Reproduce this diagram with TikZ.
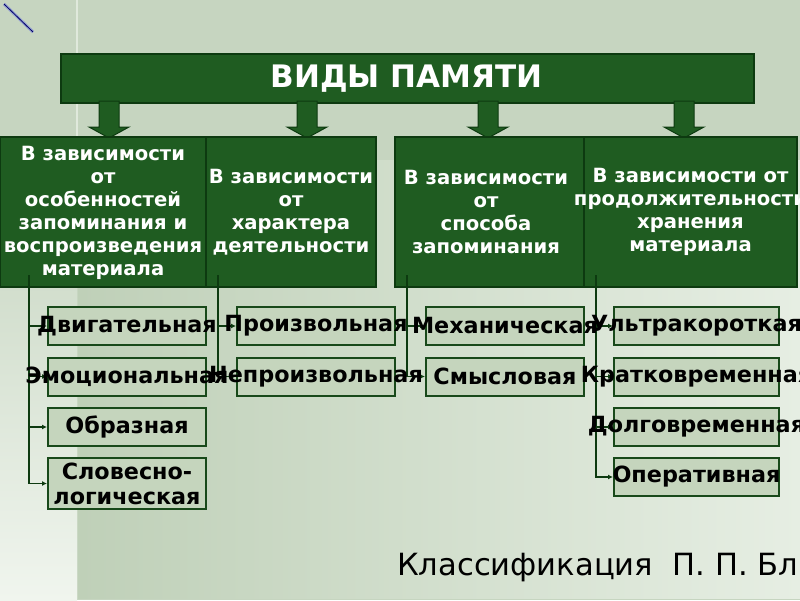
\documentclass[tikz,border=0pt]{standalone}
\usepackage{fontspec}
\setmainfont{DejaVu Sans}
\usetikzlibrary{arrows.meta}
\definecolor{bgA}{HTML}{C6D5C0}
\definecolor{bgB}{HTML}{BFD0B8}
\definecolor{bgC}{HTML}{E6EEE3}
\definecolor{bgL}{HTML}{F0F5EE}
\definecolor{dkgreen}{HTML}{1F5C21}
\definecolor{dkline}{HTML}{0D3A10}
\definecolor{subfill}{HTML}{C5D5BD}
\definecolor{subline}{HTML}{18491A}
\tikzset{
  titlebox/.style={draw=dkline, line width=2pt, fill=dkgreen, minimum width=693pt, minimum height=49pt, inner sep=0pt},
  catbox/.style={draw=dkline, line width=1.5pt, fill=dkgreen, minimum height=150pt, inner sep=0pt},
  cattext/.style={text=white, align=center, inner sep=0pt, font=\fontsize{19.6}{23}\selectfont\bfseries},
  subbox/.style={draw=subline, line width=2pt, fill=subfill, minimum width=158pt, minimum height=38pt, inner sep=0pt},
  subtext/.style={text=black, align=center, inner sep=0pt, font=\fontsize{22.3}{25}\selectfont\bfseries},
  blockarr/.style={fill=dkgreen, draw=dkline, line width=1pt},
  conn/.style={draw=dkline, line width=1.6pt, -{Latex[length=5pt,width=5pt]}},
}
\begin{document}
\begin{tikzpicture}[x=1pt,y=-1pt]
\useasboundingbox (0,0) rectangle (800,600);
% background
\fill[bgA] (0,0) rectangle (800,600);
\shade[left color=bgB, right color=bgC] (78,160) rectangle (800,598);
\shade[top color=bgA, bottom color=bgL] (0,160) rectangle (77,600);
\draw[color=bgC!80!bgA, line width=1.2pt] (77,0) -- (77,160);
% diagonal line
\draw[color=blue!25!bgA, line width=3pt] (4,4) -- (33,32);
\draw[color=blue!40!black, line width=0.8pt] (4,4) -- (33,32);
% title
\node[titlebox] (title) at (407.5,78.5) {};
\node[text=white, font=\fontsize{31}{34}\selectfont\bfseries, inner sep=0pt] (titletext) at (406.5,79) {ВИДЫ ПАМЯТИ};
% block arrows
\foreach \cx in {109,307,488,684}{
  \filldraw[blockarr] (\cx-10,101) -- (\cx+10,101) -- (\cx+10,127) -- (\cx+20,127) -- (\cx,138) -- (\cx-20,127) -- (\cx-10,127) -- cycle;
}
% category boxes
\node[catbox, minimum width=206pt] (cat1) at (103,212) {};
\node[catbox, minimum width=170pt] (cat2) at (291,212) {};
\node[catbox, minimum width=189pt] (cat3) at (489.5,212) {};
\node[catbox, minimum width=213pt] (cat4) at (690.5,212) {};
\node[cattext] (cat1t) at (103,213) {В зависимости\\от\\особенностей\\запоминания и\\воспроизведения\\материала};
\node[cattext] (cat2t) at (291,212) {В зависимости\\от\\характера\\деятельности};
\node[cattext] (cat3t) at (486,212) {В зависимости\\от\\способа\\запоминания};
\node[cattext] (cat4t) at (690.5,212) {В зависимости от\\продолжительности\\хранения\\материала};
% sub boxes
\node[subbox] (s11) at (127,326) {};
\node[subbox] (s12) at (127,376.5) {};
\node[subbox] (s13) at (127,427) {};
\node[subbox, minimum height=51pt] (s14) at (127,483.5) {};
\node[subbox] (s21) at (316,326) {};
\node[subbox] (s22) at (316,376.5) {};
\node[subbox] (s31) at (505,326) {};
\node[subbox] (s32) at (505,376.5) {};
\node[subbox, minimum width=165pt] (s41) at (696.5,326) {};
\node[subbox, minimum width=165pt] (s42) at (696.5,376.5) {};
\node[subbox, minimum width=165pt] (s43) at (696.5,427) {};
\node[subbox, minimum width=165pt] (s44) at (696.5,477) {};
% connectors
\coordinate (t1) at (29,275);
\coordinate (t2) at (218,275);
\coordinate (t3) at (407,275);
\coordinate (t4) at (596,275);
\foreach \s in {s11,s12,s13,s14}{\draw[conn] (t1) |- (\s.west);}
\foreach \s in {s21,s22}{\draw[conn] (t2) |- (\s.west);}
\foreach \s in {s31,s32}{\draw[conn] (t3) |- (\s.west);}
\foreach \s in {s41,s42,s43,s44}{\draw[conn] (t4) |- (\s.west);}
% sub texts
\node[subtext] (s11t) at (s11) {Двигательная};
\node[subtext] (s12t) at (s12) {Эмоциональная};
\node[subtext] (s13t) at (s13) {Образная};
\node[subtext] (s14t) at (s14) {Словесно-\\логическая};
\node[subtext] (s21t) at (s21) {Произвольная};
\node[subtext] (s22t) at (s22) {Непроизвольная};
\node[subtext] (s31t) at (s31) {Механическая};
\node[subtext] (s32t) at (s32) {Смысловая};
\node[subtext] (s41t) at (s41) {Ультракороткая};
\node[subtext] (s42t) at (s42) {Кратковременная};
\node[subtext] (s43t) at (s43) {Долговременная};
\node[subtext] (s44t) at (s44) {Оперативная};
% caption
\node[anchor=base west, inner sep=0pt, font=\fontsize{30.6}{34}\selectfont] (caption) at (397,575) {Классификация~ П. П. Бл};
\end{tikzpicture}
\end{document}
